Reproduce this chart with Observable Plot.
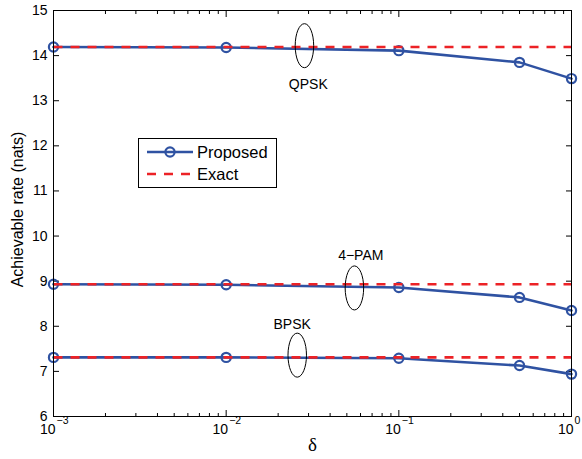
<!DOCTYPE html>
<html>
<head>
<meta charset="utf-8">
<script src="https://cdn.jsdelivr.net/npm/d3@7"></script>
<script src="https://cdn.jsdelivr.net/npm/@observablehq/plot@0.6"></script>
<style>
  body { margin: 0; background: white; }
  #wrap { position: relative; width: 582px; height: 459px; font-family: "Liberation Sans", Arial, Helvetica, sans-serif; }
  #legend { position: absolute; left: 138px; top: 138px; width: 137px; height: 48px; border: 1px solid black; background: white; }
</style>
</head>
<body>
<div id="wrap"></div>
<script>
// ---- data ----
const deltas = [0.001, 0.01, 0.1, 0.5, 1];
const qpskProposed = [14.19, 14.18, 14.11, 13.85, 13.49];
const qpskExact    = [14.19, 14.19, 14.19, 14.19, 14.19];
const pamProposed  = [8.93, 8.92, 8.86, 8.64, 8.35];
const pamExact     = [8.93, 8.93, 8.93, 8.93, 8.93];
const bpskProposed = [7.31, 7.31, 7.29, 7.13, 6.94];
const bpskExact    = [7.31, 7.31, 7.31, 7.31, 7.31];

const yTicks = [6, 7, 8, 9, 10, 11, 12, 13, 14, 15];
const xMajor = [0.001, 0.01, 0.1, 1];
const xExponents = ["\u22123", "\u22122", "\u22121", "0"];
const xMinor = [];
for (const dec of [0.001, 0.01, 0.1]) for (let m = 2; m <= 9; m++) xMinor.push(+(m * dec).toPrecision(3));

// annotations (ellipse centres and labels, in data units)
const annoNames  = ["QPSK", "4\u2212PAM", "BPSK"];
const ellipseX   = [0.0284, 0.0553, 0.0258];
const ellipseY   = [14.22, 8.85, 7.36];
const labelX     = [0.0299, 0.0602, 0.0241];
const labelY     = [13.36, 9.57, 8.05];

const blue = "#2f52a2";
const red = "#ec2226";

const series = [
  ["QPSK", qpskProposed, qpskExact],
  ["4-PAM", pamProposed, pamExact],
  ["BPSK", bpskProposed, bpskExact]
];
const proposedRows = [], exactRows = [];
for (const [name, prop, ex] of series) {
  deltas.forEach((d, i) => {
    proposedRows.push({mod: name, delta: d, rate: prop[i]});
    exactRows.push({mod: name, delta: d, rate: ex[i]});
  });
}
const ellipses = annoNames.map((n, i) => ({x: ellipseX[i], y: ellipseY[i]}));
const labels = annoNames.map((n, i) => ({name: n, x: labelX[i], y: labelY[i]}));

const ellipseSymbol = {
  draw(context, size) {
    const r = Math.sqrt(size / Math.PI);
    const ry = r, rx = r * 0.42, k = 0.5523;
    context.moveTo(0, -ry);
    context.bezierCurveTo(rx * k, -ry, rx, -ry * k, rx, 0);
    context.bezierCurveTo(rx, ry * k, rx * k, ry, 0, ry);
    context.bezierCurveTo(-rx * k, ry, -rx, ry * k, -rx, 0);
    context.bezierCurveTo(-rx, -ry * k, -rx * k, -ry, 0, -ry);
    context.closePath();
  }
};

const font = "Liberation Sans, Arial, Helvetica, sans-serif";

const chart = Plot.plot({
  width: 582,
  height: 459,
  marginLeft: 53,
  marginRight: 11,
  marginTop: 10,
  marginBottom: 43,
  style: {fontFamily: font, fontSize: "14px", color: "black", background: "white"},
  x: {type: "log", domain: [0.001, 1]},
  y: {domain: [6, 15]},
  marks: [
    // axes: labels
    Plot.axisY({anchor: "left", ticks: yTicks, tickSize: 0, tickPadding: 6, fontSize: 14, label: null, tickFormat: d => String(d)}),
    // inward ticks
    Plot.axisY({anchor: "left", ticks: yTicks, tickSize: -6, fill: "none", label: null}),
    Plot.axisY({anchor: "right", ticks: yTicks, tickSize: -6, fill: "none", label: null}),
    Plot.axisX({anchor: "bottom", ticks: xMajor, tickSize: -6, fill: "none", label: null}),
    Plot.axisX({anchor: "top", ticks: xMajor, tickSize: -6, fill: "none", label: null}),
    Plot.axisX({anchor: "bottom", ticks: xMinor, tickSize: -3, fill: "none", label: null}),
    Plot.axisX({anchor: "top", ticks: xMinor, tickSize: -3, fill: "none", label: null}),
    // x tick labels as 10^k
    Plot.text(xMajor, {x: d => d, frameAnchor: "bottom", text: () => "10", textAnchor: "end", dx: 2, dy: 17, fontSize: 14, fill: "black"}),
    Plot.text(xMajor, {x: d => d, frameAnchor: "bottom", text: (d, i) => xExponents[i], textAnchor: "start", dx: 3, dy: 7, fontSize: 10.5, fill: "black"}),
    // axis titles
    Plot.text(["Achievable rate (nats)"], {frameAnchor: "left", text: d => d, rotate: -90, textAnchor: "middle", dx: -36, dy: -4, fontSize: 16, fill: "black"}),
    Plot.text(["\u03b4"], {frameAnchor: "bottom", text: d => d, textAnchor: "middle", dy: 34, fontSize: 19, fontFamily: "Liberation Serif, Times New Roman, serif", fill: "black"}),
    // data
    Plot.line(proposedRows, {x: "delta", y: "rate", z: "mod", stroke: blue, strokeWidth: 2.6}),
    Plot.dot(proposedRows, {x: "delta", y: "rate", r: 4.6, stroke: blue, strokeWidth: 2.2, fill: "none"}),
    Plot.line(exactRows, {x: "delta", y: "rate", z: "mod", stroke: red, strokeWidth: 2.6, strokeDasharray: "9,8", strokeLinecap: "butt"}),
    // annotations
    Plot.dot(ellipses, {x: "x", y: "y", r: 22, symbol: ellipseSymbol, stroke: "black", strokeWidth: 1, fill: "none"}),
    Plot.text(labels, {x: "x", y: "y", text: "name", fontSize: 14, fill: "black"}),
    Plot.frame({stroke: "black", strokeWidth: 1})
  ]
});

const wrap = document.getElementById("wrap");
wrap.appendChild(chart);

const legend = document.createElement("div");
legend.id = "legend";
legend.innerHTML = `
<svg width="137" height="48" style="position:absolute;left:0;top:0;font-family:${font}">
  <line x1="8" x2="54" y1="13" y2="13" stroke="${blue}" stroke-width="2.6"/>
  <circle cx="31" cy="13" r="4.6" fill="none" stroke="${blue}" stroke-width="2.2"/>
  <text x="58" y="19" font-size="16.5" fill="black">Proposed</text>
  <line x1="8" x2="54" y1="35" y2="35" stroke="${red}" stroke-width="2.6" stroke-dasharray="9,8"/>
  <text x="58" y="41" font-size="16.5" fill="black">Exact</text>
</svg>`;
wrap.appendChild(legend);
</script>
</body>
</html>
